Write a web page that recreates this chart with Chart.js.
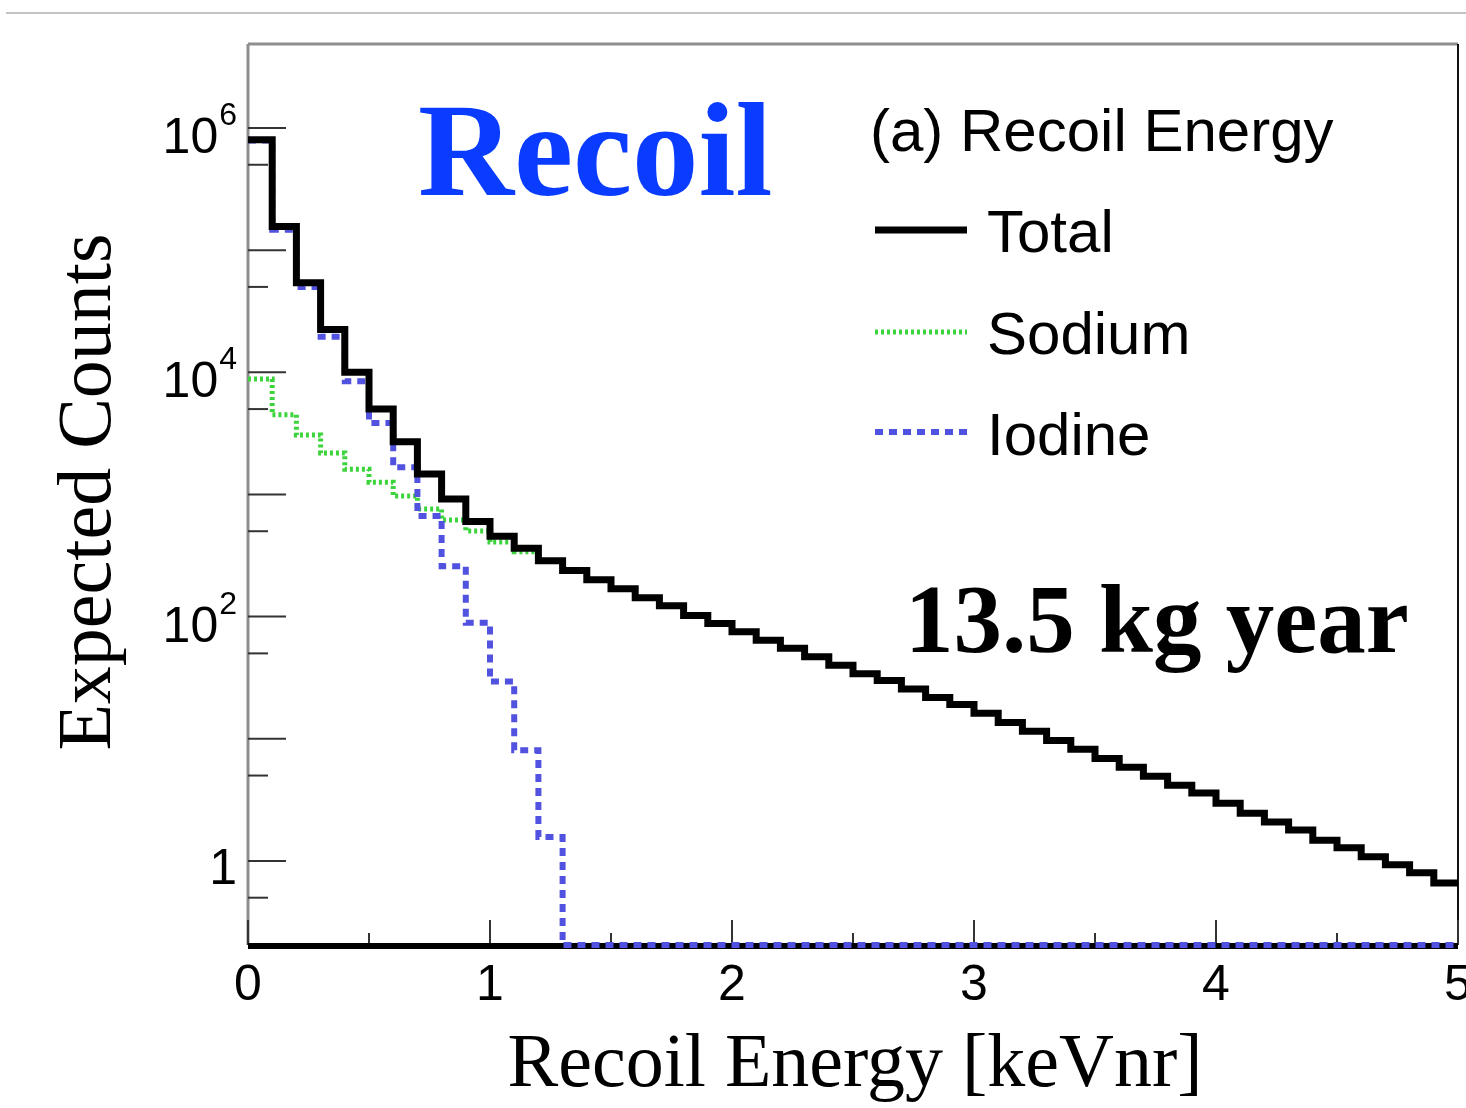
<!DOCTYPE html>
<html lang="en">
<head>
<meta charset="UTF-8">
<title>Recoil Energy</title>
<script src="https://cdn.jsdelivr.net/npm/chart.js"></script>
<style>
    body { margin: 0; background: #fff; }
    #wrap { position: relative; width: 1466px; height: 1108px; }
</style>
</head>
<body>
<div id="wrap"><canvas id="recoilChart"></canvas></div>
<script>
// low edge of each 0.1 keVnr bin
var binEdges = [0.0, 0.1, 0.2, 0.3, 0.4, 0.5, 0.6, 0.7, 0.8, 0.9,
                1.0, 1.1, 1.2, 1.3, 1.4, 1.5, 1.6, 1.7, 1.8, 1.9,
                2.0, 2.1, 2.2, 2.3, 2.4, 2.5, 2.6, 2.7, 2.8, 2.9,
                3.0, 3.1, 3.2, 3.3, 3.4, 3.5, 3.6, 3.7, 3.8, 3.9,
                4.0, 4.1, 4.2, 4.3, 4.4, 4.5, 4.6, 4.7, 4.8, 4.9];
var xMax = 5;

// expected counts per bin
var totalCounts = [8.0e5, 1.56e5, 5.4e4, 2.24e4, 1.0e4, 5.0e3, 2.7e3, 1.47e3, 920, 600,
                   455, 362, 287, 238, 200, 169, 143, 123, 102, 88,
                   75, 64, 55, 47, 40, 34, 30, 25.5, 21.8, 19.1,
                   16.2, 13.6, 11.5, 9.7, 8.2, 6.9, 5.85, 4.94, 4.17, 3.59,
                   2.97, 2.46, 2.08, 1.79, 1.48, 1.28, 1.08, 0.93, 0.80, 0.66];
var sodiumCounts = [8.8e3, 4.5e3, 3.06e3, 2.18e3, 1.61e3, 1.26e3, 972, 761, 617, 503,
                    409, 340, 285, 238, 200, 169, 143, 123, 102, 88,
                    75, 64, 55, 47, 40, 34, 30, 25.5, 21.8, 19.1,
                    16.2, 13.6, 11.5, 9.7, 8.2, 6.9, 5.85, 4.94, 4.17, 3.59,
                    2.97, 2.46, 2.08, 1.79, 1.48, 1.28, 1.08, 0.93, 0.80, 0.66];
var iodineCounts = [7.9e5, 1.47e5, 5.0e4, 1.95e4, 8.45e3, 3.84e3, 1.67e3, 667, 258, 89,
                    29.4, 8.05, 1.57, 0, 0, 0, 0, 0, 0, 0,
                    0, 0, 0, 0, 0, 0, 0, 0, 0, 0,
                    0, 0, 0, 0, 0, 0, 0, 0, 0, 0,
                    0, 0, 0, 0, 0, 0, 0, 0, 0, 0];

var yMin = 0.205;
var yMax = 4.87e6;
var yMajorTicks = [1, 10, 100, 1e3, 1e4, 1e5, 1e6];
var yMinorTicks = [0.5, 5, 50, 500, 5e3, 5e4, 5e5];
var yLabels = [[1, '1', ''], [100, '10', '2'], [1e4, '10', '4'], [1e6, '10', '6']];
var xMajorTicks = [0, 1, 2, 3, 4, 5];
var xMinorTicks = [0.5, 1.5, 2.5, 3.5, 4.5];
var xLabels = ['0', '1', '2', '3', '4', '5'];

// histogram steps: one point per low edge + closing point at xMax
// empty bins sit on the lower edge of the log axis
function toPoints(counts) {
    var pts = binEdges.map(function(x, i) {
        return { x: x, y: counts[i] > 0 ? counts[i] : yMin };
    });
    pts.push({ x: xMax, y: pts[pts.length - 1].y });
    return pts;
}

function seg(ctx, x1, y1, x2, y2) {
    ctx.beginPath();
    ctx.moveTo(x1, y1);
    ctx.lineTo(x2, y2);
    ctx.stroke();
}

var sans = '"Liberation Sans", Arial, sans-serif';
var serif = '"Liberation Serif", "Times New Roman", serif';

var rootFrame = {
    id: 'rootFrame',
    beforeDatasetsDraw: function(chart) {
        var ctx = chart.ctx, a = chart.chartArea;
        var xs = chart.scales.x, ys = chart.scales.y;
        ctx.save();
        ctx.strokeStyle = '#c4c4c4';
        ctx.lineWidth = 2;
        seg(ctx, 6, 13, 1466, 13);

        ctx.strokeStyle = '#8e8e8e';
        ctx.lineWidth = 3;
        seg(ctx, a.left, a.top, a.right, a.top);
        seg(ctx, a.left, a.top, a.left, a.bottom);
        ctx.strokeStyle = '#111';
        ctx.lineWidth = 2;
        seg(ctx, a.right, a.top, a.right, a.bottom);

        // ticks point inward
        ctx.strokeStyle = '#333';
        ctx.lineWidth = 2;
        yMajorTicks.forEach(function(v) {
            var y = ys.getPixelForValue(v);
            seg(ctx, a.left, y, a.left + 38, y);
        });
        yMinorTicks.forEach(function(v) {
            var y = ys.getPixelForValue(v);
            seg(ctx, a.left, y, a.left + 20, y);
        });
        xMajorTicks.forEach(function(v) {
            var x = xs.getPixelForValue(v);
            seg(ctx, x, a.bottom, x, a.bottom - 25);
        });
        xMinorTicks.forEach(function(v) {
            var x = xs.getPixelForValue(v);
            seg(ctx, x, a.bottom, x, a.bottom - 12);
        });

        ctx.strokeStyle = '#000';
        ctx.lineWidth = 6;
        seg(ctx, a.left, a.bottom + 1, a.right, a.bottom + 1);
        ctx.restore();
    },
    afterDraw: function(chart) {
        var ctx = chart.ctx, a = chart.chartArea;
        var xs = chart.scales.x, ys = chart.scales.y;
        ctx.save();
        ctx.fillStyle = '#000';

        // y tick labels with superscript exponents
        ctx.textAlign = 'right';
        ctx.textBaseline = 'alphabetic';
        yLabels.forEach(function(l) {
            var y = ys.getPixelForValue(l[0]);
            var right = a.left - 11;
            if (l[2]) {
                ctx.font = '32px ' + sans;
                var w = ctx.measureText(l[2]).width;
                ctx.fillText(l[2], right, y - 3);
                ctx.font = '50px ' + sans;
                ctx.fillText(l[1], right - w - 1, y + 25);
            } else {
                ctx.font = '50px ' + sans;
                ctx.fillText(l[1], right, y + 23);
            }
        });

        // x tick labels
        ctx.textAlign = 'center';
        ctx.font = '50px ' + sans;
        xMajorTicks.forEach(function(v, i) {
            ctx.fillText(xLabels[i], xs.getPixelForValue(v), 1000);
        });

        // axis titles
        ctx.font = '76px ' + serif;
        ctx.fillText('Recoil Energy [keVnr]', (a.left + a.right) / 2 + 2, 1086);
        ctx.save();
        ctx.translate(110, 492);
        ctx.rotate(-Math.PI / 2);
        ctx.fillText('Expected Counts', 0, 0);
        ctx.restore();

        // annotations
        ctx.textAlign = 'left';
        ctx.fillStyle = '#0a3cff';
        ctx.font = 'bold 133px ' + serif;
        ctx.fillText('Recoil', 418, 195);
        ctx.fillStyle = '#000';
        ctx.font = 'bold 97px ' + serif;
        ctx.fillText('13.5 kg year', 905, 652);

        // legend
        ctx.font = '60px ' + sans;
        ctx.fillText('(a) Recoil Energy', 870, 151);
        var rows = { Total: 230, Sodium: 332, Iodine: 432 };
        var textY = { Total: 252, Sodium: 354, Iodine: 455 };
        chart.data.datasets.forEach(function(ds) {
            var y = rows[ds.label];
            ctx.strokeStyle = ds.borderColor;
            ctx.lineWidth = ds.borderWidth;
            ctx.setLineDash(ds.borderDash || []);
            seg(ctx, 875, y, 967, y);
            ctx.setLineDash([]);
            ctx.fillStyle = '#000';
            ctx.fillText(ds.label, 987, textY[ds.label]);
        });
        ctx.restore();
    }
};

new Chart(document.getElementById('recoilChart'), {
    type: 'line',
    data: {
        datasets: [{
            label: 'Total',
            data: toPoints(totalCounts),
            borderColor: '#000',
            borderWidth: 7,
            stepped: true,
            pointRadius: 0,
            fill: false,
            clip: 10
        }, {
            label: 'Iodine',
            data: toPoints(iodineCounts),
            borderColor: '#5252e0',
            borderWidth: 6,
            borderDash: [8, 6],
            stepped: true,
            pointRadius: 0,
            fill: false,
            clip: 10
        }, {
            label: 'Sodium',
            data: toPoints(sodiumCounts),
            borderColor: '#3cd43c',
            borderWidth: 5,
            borderDash: [3, 3],
            stepped: true,
            pointRadius: 0,
            fill: false,
            clip: 10
        }]
    },
    options: {
        responsive: true,
        maintainAspectRatio: false,
        animation: false,
        layout: { padding: { left: 0, top: 44, right: 8, bottom: 0 } },
        plugins: {
            legend: { display: false },
            tooltip: { enabled: false }
        },
        scales: {
            x: {
                type: 'linear',
                min: 0,
                max: xMax,
                grid: { display: false },
                border: { display: false },
                ticks: { display: false },
                afterFit: function(s) { s.height = 163; }
            },
            y: {
                type: 'logarithmic',
                min: yMin,
                max: yMax,
                grid: { display: false },
                border: { display: false },
                ticks: { display: false },
                afterFit: function(s) { s.width = 248; }
            }
        }
    },
    plugins: [rootFrame]
});
</script>
</body>
</html>
